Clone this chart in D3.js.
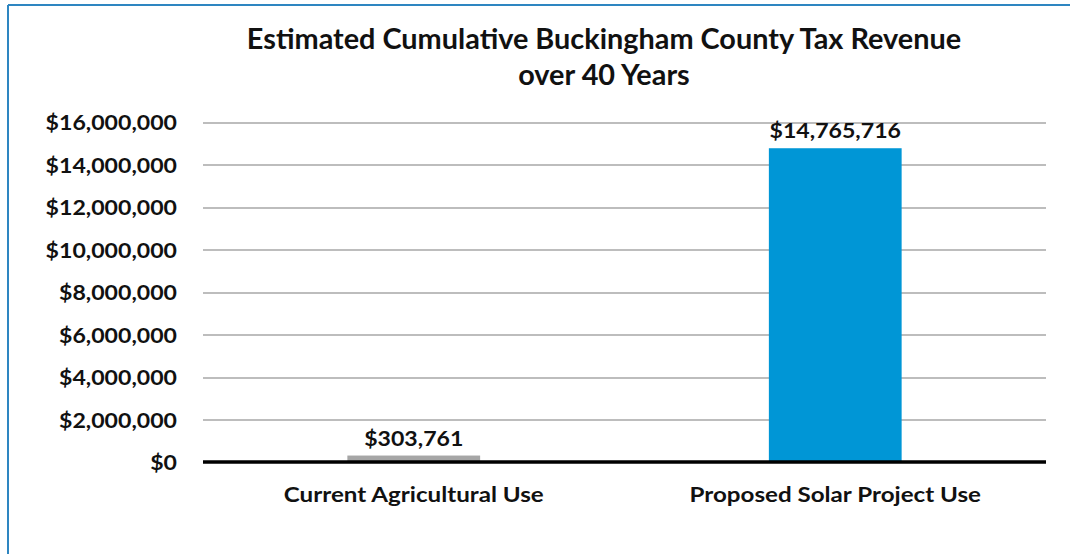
<!DOCTYPE html>
<html>
<head>
<meta charset="utf-8">
<title>tax-revenue</title>
<script src="https://cdn.jsdelivr.net/npm/d3@7"></script>
<style>
  body { margin: 0; background: #fff; }
  svg { display: block; }
  text { font-family: Lato, "Open Sans", sans-serif; font-weight: bold; fill: #111; }
  .grid line { stroke: #BDBDBD; stroke-width: 2px; shape-rendering: crispEdges; }
  .grid path { display: none; }
  .yaxis path, .yaxis line, .xaxis path, .xaxis line { display: none; }
  .yaxis text, .xaxis text, .label { font-size: 21px; }
  .title { font-size: 28px; }
</style>
</head>
<body>
<svg width="1070" height="554"></svg>
<script>
var categories = ["Current Agricultural Use", "Proposed Solar Project Use"];
var revenue = [303761, 14765716];
var barColors = ["#A6A6A6", "#0096D6"];
var yTicks = [0, 2000000, 4000000, 6000000, 8000000, 10000000, 12000000, 14000000, 16000000];
var titleLines = ["Estimated Cumulative Buckingham County Tax Revenue", "over 40 Years"];

var svg = d3.select("svg"),
    margin = { top: 122, right: 24, bottom: 92, left: 203 },
    width = +svg.attr("width") - margin.left - margin.right,
    height = +svg.attr("height") - margin.top - margin.bottom,
    g = svg.append("g").attr("transform", "translate(" + margin.left + "," + margin.top + ")");

// the original text is a wide Calibri-looking face, so widen Lato a bit
function stretch(sel, k) {
  sel.each(function() {
    this.setAttribute("textLength", this.getComputedTextLength() * k);
    this.setAttribute("lengthAdjust", "spacingAndGlyphs");
  });
}

// frame (blue edge top / left)
svg.append("line").attr("x1", 8).attr("x2", 1070).attr("y1", 5).attr("y2", 5)
  .attr("stroke", "#2E86C1").attr("stroke-width", 2);
svg.append("line").attr("x1", 8).attr("x2", 8).attr("y1", 5).attr("y2", 554)
  .attr("stroke", "#2E86C1").attr("stroke-width", 2);

var x = d3.scaleBand().domain(categories).range([0, width]).paddingInner(0.685).paddingOuter(0.3425);
var y = d3.scaleLinear().domain([0, 16000000]).range([height, 0]);

var money = function(d) { return "$" + d3.format(",")(d); };

// gridlines
g.append("g").attr("class", "grid")
  .call(d3.axisLeft(y).tickValues(yTicks.slice(1)).tickSize(-width).tickFormat(""));

var yAxis = g.append("g").attr("class", "yaxis")
  .call(d3.axisLeft(y).tickValues(yTicks).tickFormat(money).tickPadding(20));
yAxis.selectAll("text").attr("dy", "0.36em");
stretch(yAxis.selectAll("text"), 1.1);

// bars
g.selectAll(".bar").data(revenue).enter().append("rect")
  .attr("class", "bar")
  .attr("x", function(d, i) { return x(categories[i]); })
  .attr("width", x.bandwidth())
  .attr("y", function(d) { return y(d); })
  .attr("height", function(d) { return height - y(d); })
  .attr("fill", function(d, i) { return barColors[i]; });

// zero line
g.append("line").attr("x1", 0).attr("x2", width)
  .attr("y1", y(0)).attr("y2", y(0))
  .attr("stroke", "#000").attr("stroke-width", 3.5);

// value labels
var labels = g.selectAll(".label").data(revenue).enter().append("text")
  .attr("class", "label")
  .attr("x", function(d, i) { return x(categories[i]) + x.bandwidth() / 2; })
  .attr("y", function(d) { return y(d) - 10; })
  .attr("text-anchor", "middle")
  .text(money);
stretch(labels, 1.1);

var xAxis = g.append("g").attr("class", "xaxis")
  .attr("transform", "translate(0," + height + ")")
  .call(d3.axisBottom(x).tickSize(0));
xAxis.selectAll("text").attr("y", 40).attr("dy", 0);
stretch(xAxis.selectAll("text"), 1.15);

var title = svg.selectAll(".title").data(titleLines).enter().append("text")
  .attr("class", "title")
  .attr("x", 604)
  .attr("y", function(d, i) { return 49 + i * 36; })
  .attr("text-anchor", "middle")
  .text(function(d) { return d; });
stretch(title, 1.03);
</script>
</body>
</html>
